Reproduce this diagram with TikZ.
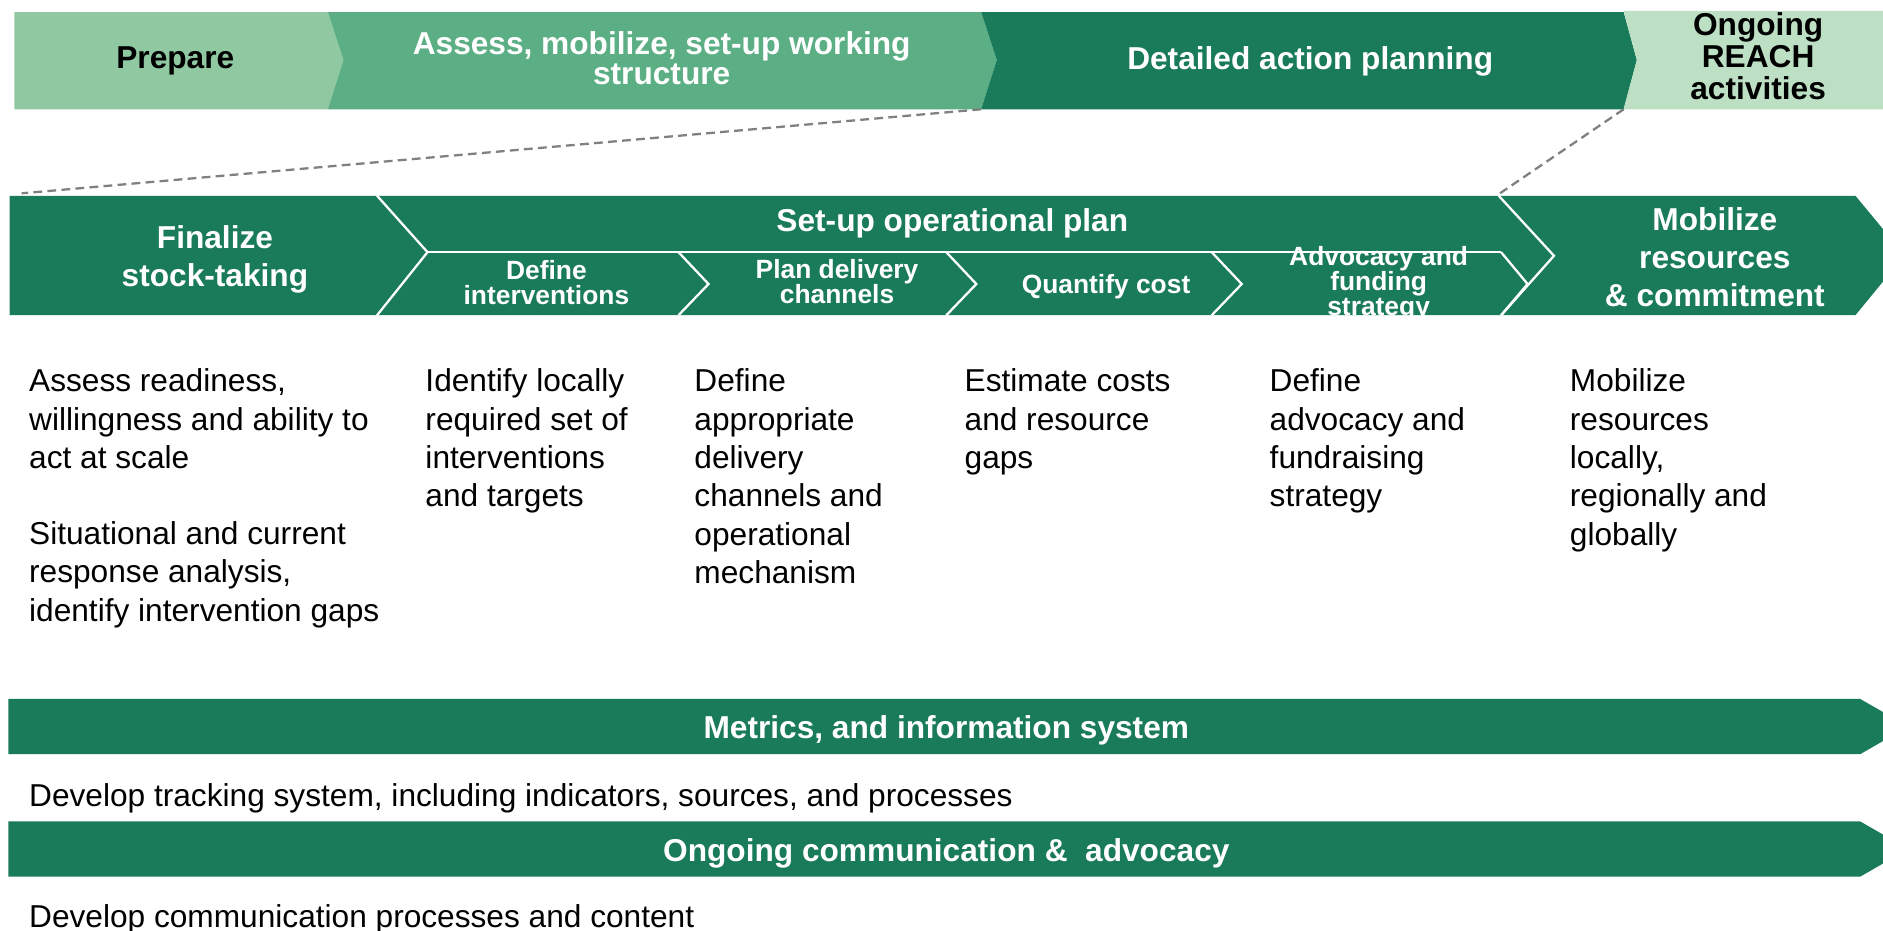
\documentclass[tikz,border=0pt]{standalone}
\usepackage{fontspec}
\setmainfont{Liberation Sans}
\usetikzlibrary{positioning}

\definecolor{dkgreen}{RGB}{26,123,90}
\definecolor{mdgreen}{RGB}{92,175,133}
\definecolor{ltgreen}{RGB}{143,200,161}
\definecolor{palegreen}{RGB}{189,224,197}
\definecolor{guidegray}{RGB}{128,128,128}

\begin{document}
\begin{tikzpicture}[
  x=0.024cm, y=-0.024cm,
  head/.style ={font=\fontsize{18}{21.5}\selectfont\bfseries, text=white,
                align=center, inner sep=0pt},
  sub/.style  ={font=\fontsize{15}{14.3}\selectfont\bfseries, text=white,
                align=center, inner sep=0pt},
  body/.style ={font=\fontsize{18}{21.8}\selectfont, align=left,
                anchor=north west, inner sep=0pt},
  sep/.style  ={draw=white, line width=1.3pt},
  guide/.style={draw=guidegray, line width=1.3pt, dash pattern=on 5pt off 3pt},
]
\clip (0,0) rectangle (1568,775);

% phases along the top
\fill[ltgreen]   (12,10) -- (273,10) -- (286,50) -- (273,91) -- (12,91) -- cycle;
\fill[mdgreen]   (273,10) -- (817,10) -- (830,50) -- (817,91) -- (273,91)
                 -- (286,50) -- cycle;
\fill[dkgreen]   (817,10) -- (1352,10) -- (1363,50) -- (1352,91) -- (817,91)
                 -- (830,50) -- cycle;
\fill[palegreen] (1352,9) -- (1568,9) -- (1568,91) -- (1352,91) -- (1363,50) -- cycle;

\node[head, text=black] (prep) at (146,51) {Prepare};
\node[head, font=\fontsize{18}{17}\selectfont\bfseries] (assess) at (551,48.5)
  {Assess, mobilize, set-up working\\structure};
\node[head] (detail) at (1091,51) {Detailed action planning};
\node[head, text=black, font=\fontsize{18}{18.2}\selectfont\bfseries] (reach)
  at (1464,46.5) {Ongoing\\REACH\\activities};

% detailed planning steps
\fill[dkgreen] (8,163) -- (1545,163) -- (1586,212.5) -- (1545,262.5) -- (8,262.5) -- cycle;
\draw[sep] (314,163) -- (356,210) -- (314,262.5);
\draw[sep] (356,210) -- (1250,210);
\foreach \x in {565,788,1009} \draw[sep] (\x,210) -- (\x+25,236.5) -- (\x,262.5);
\draw[sep] (1250,210) -- (1272,236.5) -- (1250,262.5);
\draw[sep] (1248,163) -- (1294,213) -- (1250,262.5);

\node[head] (final) at (179,216) {Finalize\\stock-taking};
\node[head] (setup) at (793,186) {Set-up operational plan};
\node[head] (mobil) at (1428,214) {Mobilize\\resources\\\& commitment};

\node[sub] (defint) at (455,235.5) {Define\\interventions};
\node[sub] (deliv)  at (697,234.5) {Plan delivery\\channels};
\node[sub] (cost)   at (921,239)   {Quantify cost};
\node[sub] (fund)   at (1148,236)  {Advocacy and\\funding\\strategy};

\coordinate (detail-sw) at (817,91);
\coordinate (reach-sw)  at (1352,91);
\coordinate (steps-nw)  at (18,161);
\coordinate (mobil-nw)  at (1249,161);
\draw[guide] (detail-sw) -- (steps-nw);
\draw[guide] (reach-sw) -- (mobil-nw);

% what each step covers
\node[body] (ready)  at (24,307)  {Assess readiness,\\willingness and ability to\\act at scale};
\node[body] (situ)   at (24,434)  {Situational and current\\response analysis,\\identify intervention gaps};
\node[body] (ident)  at (354,307) {Identify locally\\required set of\\interventions\\and targets};
\node[body] (chan)   at (578,307) {Define\\appropriate\\delivery\\channels and\\operational\\mechanism};
\node[body] (est)    at (803,307) {Estimate costs\\and resource\\gaps};
\node[body] (advs)   at (1057,307) {Define\\advocacy and\\fundraising\\strategy};
\node[body] (res)    at (1307,307) {Mobilize\\resources\\locally,\\regionally and\\globally};

% cross-cutting streams
\fill[dkgreen] (7,582) -- (1549,582) -- (1589,605) -- (1549,628) -- (7,628) -- cycle;
\node[head] (metrics) at (788,608) {Metrics, and information system};
\node[body] (track) at (24,652) {Develop tracking system, including indicators, sources, and processes};

\fill[dkgreen] (7,684) -- (1549,684) -- (1589,707) -- (1549,730) -- (7,730) -- cycle;
\node[head] (comms) at (788,711) {Ongoing communication \&\ \ advocacy};
\node[body] (content) at (24,753) {Develop communication processes and content};
\end{tikzpicture}
\end{document}
